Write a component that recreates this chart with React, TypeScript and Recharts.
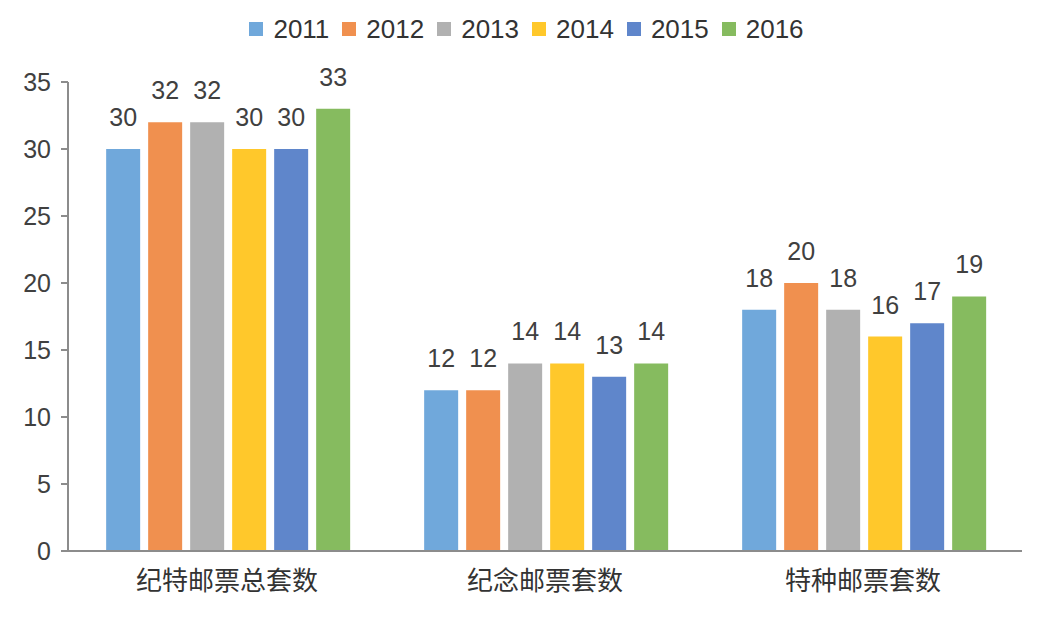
import React from "react";
import { Bar, BarChart, LabelList, Legend, XAxis, YAxis } from "recharts";

const categories = ["纪特邮票总套数", "纪念邮票套数", "特种邮票套数"];
const years = ["2011", "2012", "2013", "2014", "2015", "2016"];
const values2011 = [30, 12, 18];
const values2012 = [32, 12, 20];
const values2013 = [32, 14, 18];
const values2014 = [30, 14, 16];
const values2015 = [30, 13, 17];
const values2016 = [33, 14, 19];
const yTicks = [0, 5, 10, 15, 20, 25, 30, 35];

const seriesValues = [values2011, values2012, values2013, values2014, values2015, values2016];
const colors = ["#70A8DB", "#F0904F", "#B1B1B1", "#FFC82B", "#5F86CB", "#86BB5F"];

const data = categories.map((name, i) => {
  const row: Record<string, string | number> = { name };
  years.forEach((y, j) => {
    row[y] = seriesValues[j][i];
  });
  return row;
});

const font = "'Liberation Sans', Arial, 'Noto Sans CJK SC', sans-serif";

// legend drawn as a single row: square swatch + year
const renderLegend = (props: any) => {
  const { payload = [] } = props;
  return (
    <div
      style={{
        display: "flex",
        justifyContent: "center",
        alignItems: "center",
        gap: 13,
        height: 30,
        paddingLeft: 5,
        fontFamily: font,
        fontSize: 26,
        color: "#333",
      }}
    >
      {payload.map((entry: any) => (
        <div key={entry.value} style={{ display: "flex", alignItems: "center" }}>
          <span
            style={{ width: 14, height: 14, background: entry.color, marginRight: 10, display: "inline-block" }}
          />
          <span>{entry.value}</span>
        </div>
      ))}
    </div>
  );
};

export default function App() {
  return (
    <div style={{ position: "absolute", left: 0, top: 0, background: "#fff" }}>
      <BarChart
        width={1048}
        height={618}
        data={data}
        margin={{ top: 52, right: 26, bottom: 0, left: 0 }}
        barCategoryGap="12%"
        barGap={8}
        style={{ fontFamily: font }}
      >
        <XAxis
          dataKey="name"
          height={67}
          tickLine={false}
          axisLine={{ stroke: "#8C8C8C", strokeWidth: 2 }}
          tick={{ fill: "#333", fontSize: 26 }}
          tickMargin={15}
        />
        <YAxis
          width={68}
          domain={[0, 35]}
          ticks={yTicks}
          interval={0}
          axisLine={{ stroke: "#8C8C8C", strokeWidth: 2 }}
          tickLine={{ stroke: "#8C8C8C", strokeWidth: 2 }}
          tickSize={7}
          tick={{ fill: "#404040", fontSize: 25 }}
          tickMargin={10}
        />
        <Legend
          verticalAlign="top"
          align="center"
          content={renderLegend}
          wrapperStyle={{ top: 14, left: 0, width: 1048 }}
        />
        {years.map((y, j) => (
          <Bar key={y} dataKey={y} fill={colors[j]} isAnimationActive={false}>
            <LabelList dataKey={y} position="top" offset={23} fill="#404040" fontSize={25} />
          </Bar>
        ))}
      </BarChart>
    </div>
  );
}
